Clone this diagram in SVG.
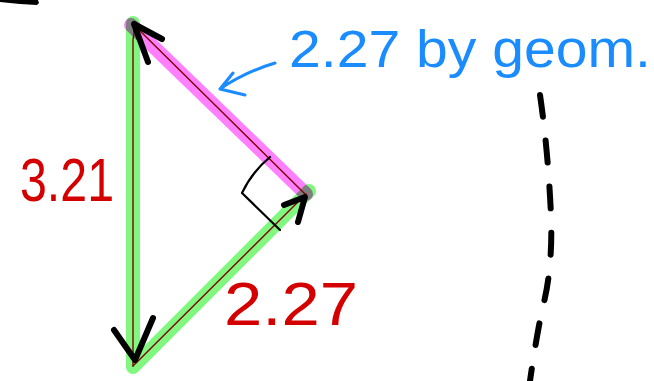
<svg xmlns="http://www.w3.org/2000/svg" width="654" height="381" viewBox="0 0 654 381">
<style>
.hl{fill:none;stroke-linecap:round;stroke-linejoin:round;stroke-width:14;mix-blend-mode:multiply}
.green{stroke:#80f880}
.pink{stroke:#ff80ff}
.edge{fill:none;stroke:#800000;stroke-width:1.4;stroke-linecap:round}
.arrow{fill:none;stroke:#000;stroke-width:6;stroke-linecap:round;stroke-linejoin:round}
.mark{fill:none;stroke:#000;stroke-width:2.2;stroke-linecap:round;stroke-linejoin:round}
.blue{fill:none;stroke:#1a8cff;stroke-width:3;stroke-linecap:round;stroke-linejoin:round}
.red{fill:#d40000;font-family:"Liberation Sans",Arial,sans-serif;font-size:62px}
.bluet{fill:#1a8cff;font-family:"Liberation Sans",Arial,sans-serif;font-size:51px}
.dash{fill:none;stroke:#000;stroke-width:6;stroke-linecap:round;stroke-dasharray:22 24}
</style>
<rect width="654" height="381" fill="#fff"/>
<polygon points="0,0 38,0 39,3 37,5 20,4 0,2" fill="#000"/>
<g id="highlights">
<polyline class="hl green" points="133,23 133,367 309,191"/>
<line class="hl pink" x1="131" y1="25" x2="306" y2="194"/>
</g>
<g id="connectors">
<path class="edge" d="M134,22 Q135,28 133,40 L133,366"/>
<line class="edge" x1="133" y1="24" x2="305" y2="194"/>
<line class="edge" x1="133" y1="366" x2="306" y2="194"/>
<polyline class="arrow" points="162,39 134,24 148,62"/>
<polyline class="arrow" points="114,330 135,360 153,318"/>
<polyline class="arrow" points="284,205 305,197 298,222"/>
<path class="mark" d="M270,157 Q252,172 242,193 L280,230"/>
<path class="blue" d="M275,63 Q245,72 220,89 M233,73 L220,89 L245,95"/>
<path class="dash" d="M540,95 Q548,150 551,215 Q553,270 542,310 Q535,345 530,381"/>
</g>
<g id="labels">
<text class="red" x="20" y="201" textLength="94" lengthAdjust="spacingAndGlyphs">3.21</text>
<text class="red" x="224" y="325" textLength="134" lengthAdjust="spacingAndGlyphs">2.27</text>
<text class="bluet" x="289" y="67" textLength="362" lengthAdjust="spacingAndGlyphs">2.27 by geom.</text>
</g>
</svg>
